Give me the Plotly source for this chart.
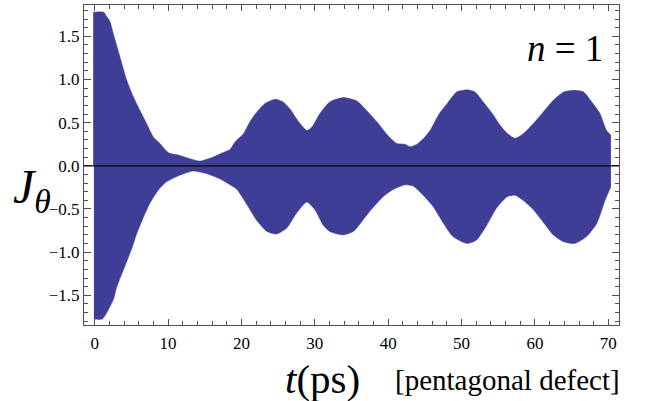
import plotly.graph_objects as go

# Upper envelope of J_theta(t)
t_upper = [-0.2, 1.25, 1.55, 2.05, 2.55, 3.46, 4.37, 5.27, 6.18, 7.08, 7.99, 8.89, 10.1, 11.6,
           13.1, 14.3, 16.1, 17.4, 18.45, 19.15, 20.26, 21.16, 22.07, 23.18, 24.58, 25.69,
           26.6, 27.8, 28.91, 29.61, 30.72, 32.03, 33.84, 35.75, 37.06, 38.46, 39.77, 41.18,
           42.29, 42.99, 43.9, 45.0, 45.7, 47.0, 48.02, 49.33, 50.74, 51.84, 52.95, 54.16,
           55.26, 56.17, 57.27, 58.38, 59.79, 61.1, 62.5, 63.91, 65.42, 66.63, 67.74, 68.84,
           69.75, 70.35]
j_upper = [1.78, 1.78, 1.74, 1.68, 1.53, 1.26, 0.99, 0.80, 0.64, 0.49, 0.335, 0.26, 0.15, 0.12,
           0.08, 0.055, 0.10, 0.15, 0.19, 0.28, 0.37, 0.51, 0.62, 0.72, 0.77, 0.74,
           0.66, 0.51, 0.41, 0.45, 0.61, 0.74, 0.79, 0.75, 0.64, 0.51, 0.37, 0.26,
           0.25, 0.22, 0.25, 0.335, 0.41, 0.61, 0.72, 0.855, 0.88, 0.855, 0.74, 0.61,
           0.47, 0.38, 0.32, 0.37, 0.49, 0.62, 0.76, 0.855, 0.875, 0.855, 0.74, 0.61,
           0.41, 0.355]

# Lower envelope of J_theta(t)
t_lower = [-0.1, 1.05, 1.85, 2.55, 2.96, 3.66, 4.37, 5.07, 5.67, 6.58, 7.53, 8.69, 9.8, 11.6,
           13.42, 15.23, 17.04, 18.45, 19.35, 20.76, 22.07, 23.48, 24.79, 26.19, 27.5, 28.91,
           30.02, 31.12, 32.03, 33.84, 35.25, 36.55, 37.86, 39.27, 40.58, 42.29, 43.39, 44.3,
           46.11, 47.52, 48.82, 50.74, 52.04, 53.45, 54.76, 56.17, 57.27, 58.38, 59.79, 61.1,
           62.5, 63.91, 65.42, 67.03, 68.44, 69.55, 70.35]
j_lower = [-1.775, -1.775, -1.67, -1.55, -1.42, -1.26, -1.11, -0.955, -0.80, -0.61, -0.435, -0.28, -0.185, -0.11,
           -0.06, -0.09, -0.15, -0.22, -0.27, -0.45, -0.63, -0.76, -0.79, -0.72, -0.55, -0.42,
           -0.51, -0.685, -0.76, -0.80, -0.76, -0.63, -0.49, -0.36, -0.28, -0.22, -0.235, -0.30,
           -0.47, -0.665, -0.82, -0.90, -0.86, -0.685, -0.49, -0.36, -0.34, -0.40, -0.51, -0.65,
           -0.80, -0.88, -0.90, -0.82, -0.665, -0.40, -0.24]

x_ticks = [0, 10, 20, 30, 40, 50, 60, 70]
y_ticks = [-1.5, -1.0, -0.5, 0.0, 0.5, 1.0, 1.5]

FILL = "rgb(62,62,150)"
SERIF = "Liberation Serif, Times New Roman, serif"

fig = go.Figure()
for tt, jj in ((t_upper, j_upper), (t_lower, j_lower)):
    fig.add_trace(go.Scatter(
        x=tt, y=jj, mode="lines", fill="tozeroy", fillcolor=FILL,
        line=dict(width=0.5, color=FILL, shape="spline", smoothing=0.6),
        hoverinfo="skip", showlegend=False))

fig.add_hline(y=0, line=dict(color="black", width=1.3), layer="above")

axis_common = dict(showline=True, linecolor="#505050", linewidth=1, mirror="ticks",
                   ticks="inside", tickcolor="#505050", showgrid=False, zeroline=False,
                   automargin=False,
                   tickfont=dict(family=SERIF, size=17, color="black"))

fig.update_xaxes(range=[-1.45, 71.45], tickvals=x_ticks, ticklen=6, tickwidth=1,
                 ticklabelstandoff=3,
                 minor=dict(dtick=2, tick0=0, ticks="inside", ticklen=4, tickcolor="#505050", showgrid=False),
                 **axis_common)
fig.update_yaxes(range=[-1.844, 1.863], tickvals=y_ticks, tickformat=".1f", ticklen=7, tickwidth=1,
                 minor=dict(dtick=0.1, tick0=0, ticks="inside", ticklen=4, tickcolor="#505050", showgrid=False),
                 **axis_common)

W, H = 648, 401
L, R, T, B = 84, 29, 5, 76
pw, ph = W - L - R, H - T - B

annos = [
    dict(text="<i>J</i><sub><i>θ</i></sub>", x=11, y=190, size=48, anchor="left"),
    dict(text="<i>t</i>(ps)", x=322, y=379, size=41, anchor="center"),
    dict(text="[pentagonal defect]", x=507, y=380, size=29, anchor="center"),
    dict(text="<i>n</i> = 1", x=565, y=48, size=37, anchor="center"),
]
for a in annos:
    xp = (a["x"] - L) / pw
    yp = 1 - (a["y"] - T) / ph
    fig.add_annotation(text=a["text"], xref="paper", yref="paper", x=xp, y=yp,
                       xanchor=a["anchor"], yanchor="middle",
                       showarrow=False, font=dict(family=SERIF, size=a["size"], color="black"))

fig.update_layout(width=W, height=H, margin=dict(l=L, r=R, t=T, b=B, autoexpand=False),
                  plot_bgcolor="white", paper_bgcolor="white",
                  font=dict(family=SERIF))

fig.write_html("out.html", config={"displayModeBar": False},
               post_script="document.body.style.margin='0';document.body.style.padding='0';")
